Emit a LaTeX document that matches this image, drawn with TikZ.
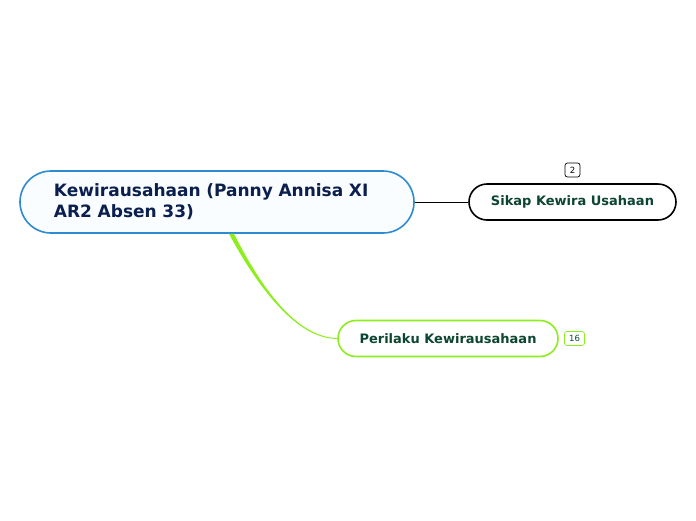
\documentclass[tikz,border=0pt]{standalone}
\usepackage{fontspec}
\setmainfont{DejaVu Sans}
\definecolor{mainblue}{HTML}{2E8BD0}
\definecolor{navytext}{HTML}{0B1F4F}
\definecolor{lime}{HTML}{8CEE1C}
\definecolor{darkgreen}{HTML}{0C4530}
\definecolor{mainfill}{HTML}{FAFDFF}
\tikzset{
  topic/.style={draw, rounded corners=#1, fill=white, line width=1.6pt},
  badge/.style={draw, rounded corners=2.5pt, line width=0.7pt, inner sep=0pt, minimum width=15pt, minimum height=14pt, font=\fontsize{8.5}{9}\selectfont, fill=white},
}
\begin{document}
\begin{tikzpicture}[x=1pt,y=-1pt]
\useasboundingbox (0,0) rectangle (696,520);
% main
\node[topic=31pt, draw=mainblue, fill=mainfill, minimum width=394pt, minimum height=62pt, text width=322pt, inner xsep=0pt, align=left, text=navytext, font=\bfseries\fontsize{17}{21}\selectfont] (main) at (217,202) {\hspace*{-2pt}Kewirausahaan (Panny Annisa XI\\\hspace*{-2pt}AR2 Absen 33)};
% sikap
\node[topic=18pt, draw=black, minimum width=207pt, minimum height=36pt, text=darkgreen, font=\bfseries\fontsize{13}{15}\selectfont] (sikap) at (572.5,202) {Sikap Kewira Usahaan};
\node[badge, draw=black, text=black] (b2) at (572.5,170) {2};
% perilaku
\node[topic=18pt, draw=lime, minimum width=220pt, minimum height=36pt, text=darkgreen, font=\bfseries\fontsize{13}{15}\selectfont] (peri) at (448,338.5) {Perilaku Kewirausahaan};
\node[badge, draw=lime, text=darkgreen, minimum width=20pt] (b16) at (574.5,338.5) {16};
% connectors
\draw[line width=0.8pt, black] (main.east) -- (sikap.west);
\coordinate (gs) at ([xshift=15pt]main.south);
\fill[lime] ([xshift=-3pt]gs) .. controls (263,297) and (300,338) .. (peri.west) .. controls (300,337) and (266,297) .. ([xshift=2pt]gs) -- cycle;
\draw[lime, line width=0.9pt] (gs) .. controls (264,297) and (300,338) .. (peri.west);
\end{tikzpicture}
\end{document}
